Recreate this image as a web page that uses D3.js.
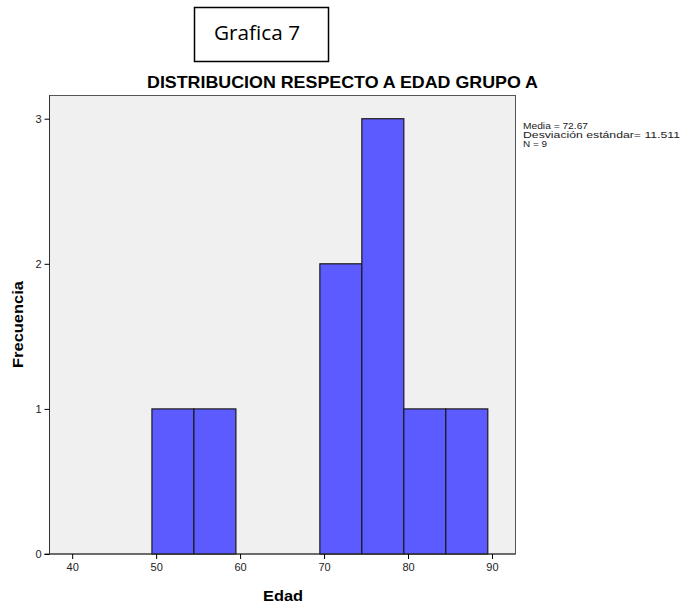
<!DOCTYPE html>
<html>
<head>
<meta charset="utf-8">
<script src="https://cdn.jsdelivr.net/npm/d3@7"></script>
<style>
  body { margin: 0; background: #fff; }
  svg { display: block; }
</style>
</head>
<body>
<svg id="chart"></svg>
<script>
// histogram bins (edad) and frequencies
var binLow  = [49.5, 54.5, 69.5, 74.5, 79.5, 84.5];
var binHigh = [54.5, 59.5, 74.5, 79.5, 84.5, 89.5];
var counts  = [1, 1, 2, 3, 1, 1];
var xTicks = [40, 50, 60, 70, 80, 90];
var yTicks = [0, 1, 2, 3];
var statsLines = ["Media = 72.67", "Desviación estándar= 11.511", "N = 9"];

var width = 684, height = 607;
var plotLeft = 49.5, plotRight = 515.5, plotTop = 95.5, plotBottom = 554;

var svg = d3.select("#chart").attr("width", width).attr("height", height)
  .style("font-family", "'Liberation Sans', Arial, sans-serif");

var x = d3.scaleLinear().domain([37.3, 92.8]).range([plotLeft, plotRight]);
var y = d3.scaleLinear().domain([0, 3.16]).range([plotBottom, plotTop]);

// "Grafica 7" box
svg.append("rect").attr("x", 194.5).attr("y", 7.5).attr("width", 134).attr("height", 54)
  .attr("fill", "#fff").attr("stroke", "#000").attr("stroke-width", 1.5);
svg.append("text").attr("x", 214).attr("y", 40)
  .attr("textLength", 86).attr("lengthAdjust", "spacingAndGlyphs")
  .style("font-family", "'Open Sans', Carlito, sans-serif").style("font-size", "20px")
  .text("Grafica 7");

// title
svg.append("text").attr("x", 147).attr("y", 88)
  .attr("textLength", 391).attr("lengthAdjust", "spacingAndGlyphs")
  .style("font-size", "16.5px").style("font-weight", "bold")
  .text("DISTRIBUCION RESPECTO A EDAD GRUPO A");

// plot background
svg.append("rect").attr("x", plotLeft).attr("y", plotTop)
  .attr("width", plotRight - plotLeft).attr("height", plotBottom - plotTop)
  .attr("fill", "#f0f0f0").attr("stroke", "#555").attr("stroke-width", 1);

// bars
svg.selectAll("rect.bar")
  .data(counts)
  .enter()
  .append("rect")
  .attr("class", "bar")
  .attr("x", function(d, i) { return x(binLow[i]); })
  .attr("width", function(d, i) { return x(binHigh[i]) - x(binLow[i]); })
  .attr("y", function(d) { return y(d); })
  .attr("height", function(d) { return y(0) - y(d); })
  .attr("fill", "#5b5bff")
  .attr("stroke", "#1a1a1a")
  .attr("stroke-width", 1.2);

// axes
var xAxis = d3.axisBottom(x).tickValues(xTicks).tickSize(5).tickPadding(4).tickFormat(d3.format("d"));
var gx = svg.append("g").attr("transform", "translate(0," + plotBottom + ")").call(xAxis);
gx.select(".domain").attr("d", "M" + (plotLeft - 5) + ",0H" + plotRight).attr("stroke", "#333");
gx.selectAll("text").style("font-size", "11px").style("font-family", "'Liberation Sans', Arial, sans-serif").attr("fill", "#222");

var yAxis = d3.axisLeft(y).tickValues(yTicks).tickSize(5).tickPadding(3).tickFormat(d3.format("d"));
var gy = svg.append("g").attr("transform", "translate(" + plotLeft + ",0)").call(yAxis);
gy.select(".domain").attr("d", "M0," + plotTop + "V" + plotBottom).attr("stroke", "#333");
gy.selectAll("text").style("font-size", "11px").style("font-family", "'Liberation Sans', Arial, sans-serif").attr("fill", "#222");

// axis titles
svg.append("text").attr("x", 263).attr("y", 601)
  .attr("textLength", 40).attr("lengthAdjust", "spacingAndGlyphs")
  .style("font-size", "14px").style("font-weight", "bold").text("Edad");
svg.append("text").attr("transform", "translate(23,368) rotate(-90)")
  .attr("textLength", 87).attr("lengthAdjust", "spacingAndGlyphs")
  .style("font-size", "14px").style("font-weight", "bold").text("Frecuencia");

// stats legend
var statsWidth = [65, 157, 24];
svg.append("g").selectAll("text").data(statsLines).enter().append("text")
  .attr("x", 523).attr("y", function(d, i) { return 128.5 + i * 9; })
  .attr("textLength", function(d, i) { return statsWidth[i]; })
  .attr("lengthAdjust", "spacingAndGlyphs")
  .style("font-size", "9.5px").attr("fill", "#222")
  .text(function(d) { return d; });
</script>
</body>
</html>
